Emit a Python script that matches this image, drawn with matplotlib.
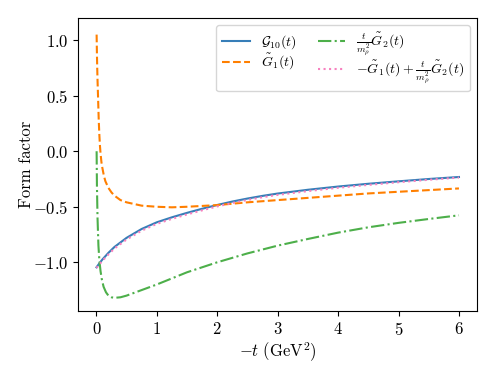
import matplotlib
matplotlib.use("Agg")
import matplotlib.pyplot as plt

plt.rcParams['font.family'] = 'serif'
plt.rcParams['font.serif'] = ['cmr10']
plt.rcParams['mathtext.fontset'] = 'cm'
plt.rcParams['axes.formatter.use_mathtext'] = True
plt.rcParams['font.size'] = 12

# -t (GeV^2) sample points
t_g10 = [0.003, 0.05, 0.1, 0.2, 0.3, 0.5, 0.75, 1.0, 1.25, 1.5, 1.75, 2.0, 2.25, 2.5, 2.75, 3.0, 3.5, 4.0, 4.5, 5.0, 5.5, 6.0]
g10 = [-1.045, -1.01, -0.975, -0.915, -0.862, -0.78, -0.70, -0.64, -0.595, -0.555, -0.518, -0.484, -0.453, -0.426, -0.402, -0.381, -0.347, -0.318, -0.293, -0.271, -0.25, -0.232]

t_g1 = [0.005, 0.01, 0.015, 0.02, 0.028, 0.04, 0.05, 0.06, 0.07, 0.085, 0.1, 0.125, 0.15, 0.2, 0.25, 0.3, 0.4, 0.5, 0.75, 1.0, 1.25, 1.5, 2.0, 2.5, 3.0, 3.5, 4.0, 4.5, 5.0, 5.5, 6.0]
g1 = [1.05, 0.88, 0.75, 0.64, 0.5, 0.28, 0.15, 0.05, -0.02, -0.1, -0.15, -0.22, -0.27, -0.33, -0.37, -0.40, -0.44, -0.46, -0.49, -0.50, -0.505, -0.50, -0.485, -0.46, -0.44, -0.42, -0.40, -0.38, -0.365, -0.35, -0.335]

t_g2 = [0.005, 0.01, 0.02, 0.035, 0.05, 0.07, 0.09, 0.12, 0.16, 0.2, 0.25, 0.3, 0.4, 0.5, 0.75, 1.0, 1.5, 2.0, 2.5, 3.0, 3.5, 4.0, 4.5, 5.0, 5.5, 6.0]
g2t = [0.0, -0.3, -0.6, -0.85, -0.98, -1.08, -1.15, -1.22, -1.27, -1.30, -1.315, -1.32, -1.315, -1.30, -1.25, -1.20, -1.09, -1.00, -0.92, -0.85, -0.79, -0.733, -0.685, -0.645, -0.61, -0.577]

t_sum = [0.003, 0.05, 0.1, 0.2, 0.3, 0.5, 0.75, 1.0, 1.25, 1.5, 1.75, 2.0, 2.25, 2.5, 2.75, 3.0, 3.5, 4.0, 4.5, 5.0, 5.5, 6.0]
gsum = [-1.05, -1.02, -0.987, -0.929, -0.876, -0.795, -0.715, -0.654, -0.609, -0.569, -0.532, -0.497, -0.466, -0.439, -0.414, -0.393, -0.359, -0.329, -0.303, -0.279, -0.257, -0.237]

fig = plt.figure(figsize=(4.98, 3.74), dpi=100)
ax = fig.add_axes([0.157, 0.168, 0.801, 0.784])

ax.plot(t_g10, g10, color='#377eb8', lw=1.5, ls='-', label=r'$\mathcal{G}_{10}(t)$')
ax.plot(t_g1, g1, color='#ff7f00', lw=1.5, ls='--', label=r'$\tilde{G}_1(t)$')
ax.plot(t_g2, g2t, color='#4daf4a', lw=1.5, ls='-.', label=r'$\frac{t}{m_\rho^2}\tilde{G}_2(t)$')
ax.plot(t_sum, gsum, color='#f781bf', lw=1.5, ls=':', label=r'$-\tilde{G}_1(t)+\frac{t}{m_\rho^2}\tilde{G}_2(t)$')

ax.set_xlabel(r'$-t\ (\mathrm{GeV}^2)$', labelpad=2)
ax.set_ylabel('Form factor')
ax.yaxis.set_label_coords(-0.11, 0.5)
ax.set_yticks([-1.0, -0.5, 0.0, 0.5, 1.0])
ax.set_xticks([0, 1, 2, 3, 4, 5, 6])
ax.set_ylim(-1.44, 1.2)
ax.set_xlim(-0.3, 6.3)
ax.legend(ncol=2, loc='upper right', fontsize=10, columnspacing=1.5, labelspacing=0.05)

fig.savefig('out.png', dpi=100)
